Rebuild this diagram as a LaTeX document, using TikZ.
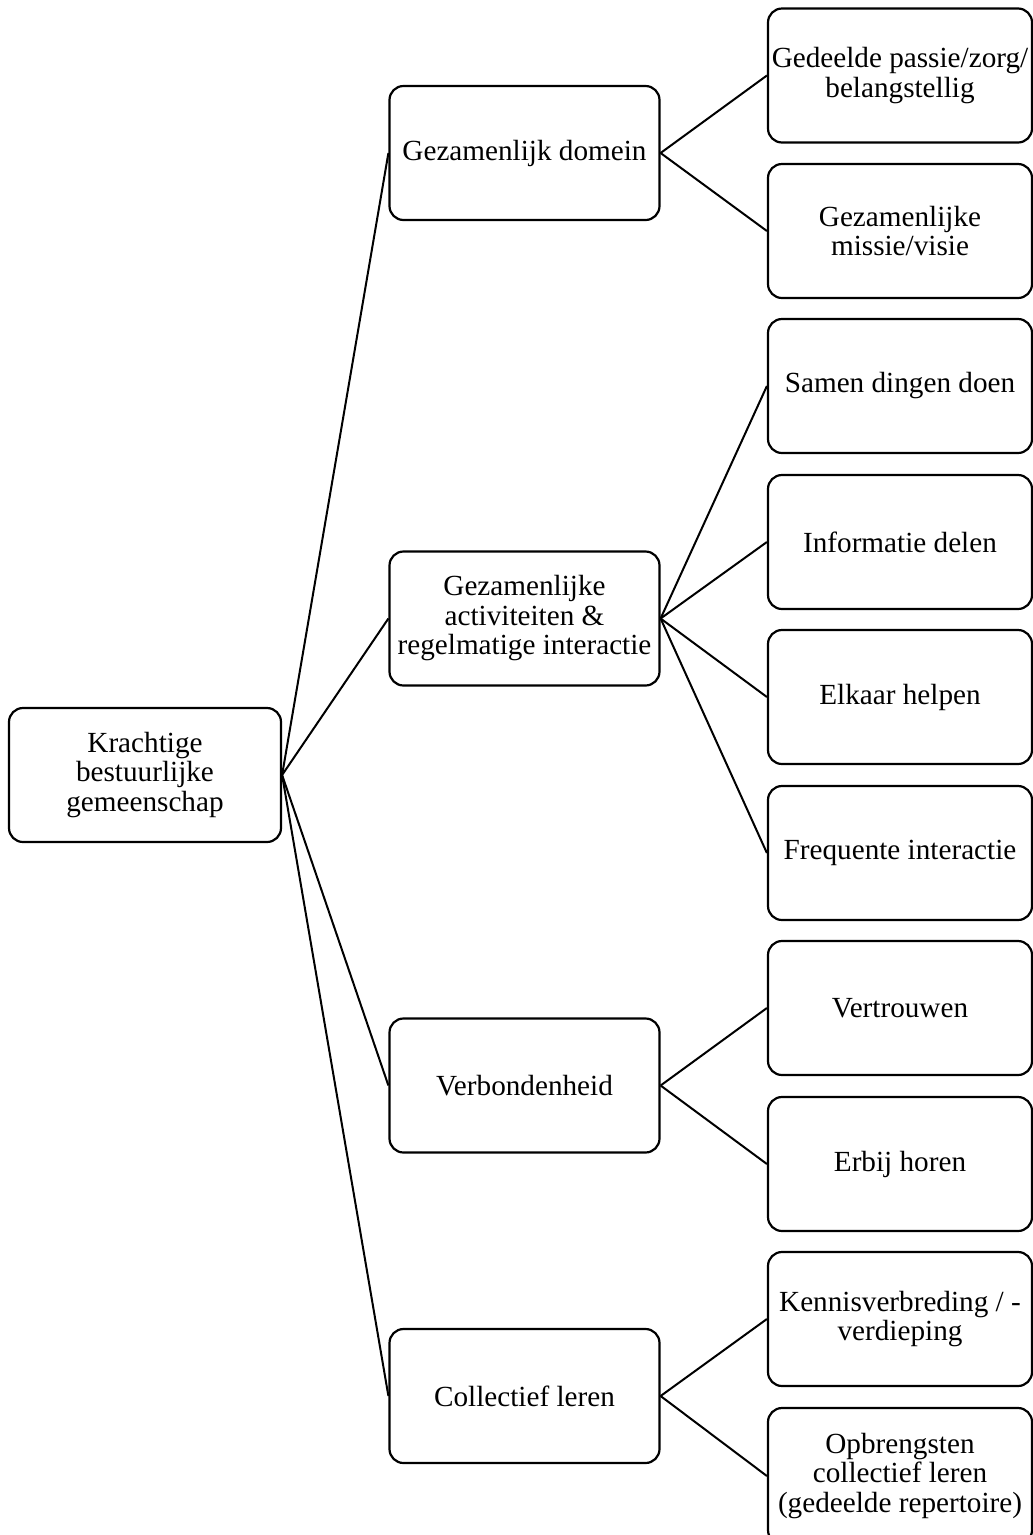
\documentclass[tikz,border=0pt]{standalone}
\usepackage{fontspec}
\setmainfont{Liberation Serif}
\begin{document}
\begin{tikzpicture}[x=1pt,y=-1pt,
  box/.style={draw=black, line width=2.2pt, rounded corners=14pt, align=center,
    font=\fontsize{29.2}{29.5}\selectfont, inner sep=0pt},
  lone/.style={box, minimum width=272pt, minimum height=134pt},
  ltwo/.style={box, minimum width=270pt, minimum height=134pt},
  lthree/.style={box, minimum width=264pt, minimum height=134pt},
  conn/.style={line width=2pt}]
\useasboundingbox (0,0) rectangle (1033,1535);
\begin{scope}
\clip (0,0) rectangle (1033,1535);
\node[lone] (root) at (145,775) {Krachtige\\bestuurlijke\\gemeenschap};

\node[ltwo] (dom) at (524.5,153) {Gezamenlijk domein};
\node[ltwo] (act) at (524.5,618.5) {Gezamenlijke\\activiteiten \&\\regelmatige interactie};
\node[ltwo] (ver) at (524.5,1085.5) {Verbondenheid};
\node[ltwo] (col) at (524.5,1396) {Collectief leren};

\node[lthree] (a1) at (900,75.5) {Gedeelde passie/zorg/\\belangstellig};
\node[lthree] (a2) at (900,231) {Gezamenlijke\\missie/visie};
\node[lthree] (b1) at (900,386) {Samen dingen doen};
\node[lthree] (b2) at (900,542) {Informatie delen};
\node[lthree] (b3) at (900,697) {Elkaar helpen};
\node[lthree] (b4) at (900,853) {Frequente interactie};
\node[lthree] (c1) at (900,1008) {Vertrouwen};
\node[lthree] (c2) at (900,1164) {Erbij horen};
\node[lthree] (d1) at (900,1319) {Kennisverbreding / -\\verdieping};
\node[lthree, minimum height=136pt] (d2) at (900,1476) {Opbrengsten\\collectief leren\\(gedeelde repertoire)};

\foreach \n in {dom,act,ver,col} \draw[conn] (root.east) -- (\n.west);
\foreach \n in {a1,a2} \draw[conn] (dom.east) -- (\n.west);
\foreach \n in {b1,b2,b3,b4} \draw[conn] (act.east) -- (\n.west);
\foreach \n in {c1,c2} \draw[conn] (ver.east) -- (\n.west);
\foreach \n in {d1,d2} \draw[conn] (col.east) -- (\n.west);
\end{scope}
\end{tikzpicture}
\end{document}
